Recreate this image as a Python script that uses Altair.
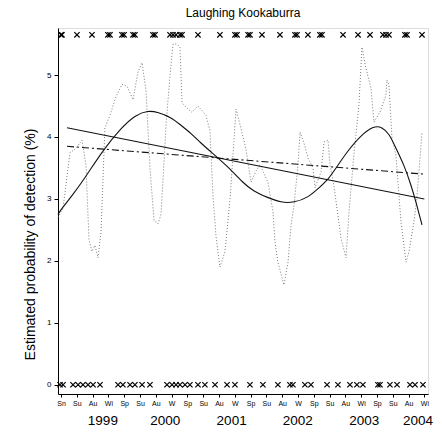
import altair as alt
import pandas as pd

# ---- data (x = season index, 0 = first season label) ----
season_labels = ["Sn", "Su", "Au", "Wi", "Sp", "Su", "Au", "W", "Sp", "Su", "Au", "W",
                 "Sp", "Su", "Au", "W", "Sp", "Su", "Au", "Wi", "Sp", "Su", "Au", "Wi"]
year_labels = ["1999", "2000", "2001", "2002", "2003", "2004"]
year_pos = [2.65, 6.6, 10.8, 14.99, 19.2, 22.6]

obs_s = [-0.19, 0.13, 0.57, 0.89, 1.33, 1.58, 1.77, 1.96, 2.15, 2.34, 2.53, 2.78, 3.10, 3.48,
         3.86, 4.18, 4.56, 4.87, 5.13, 5.38, 5.63, 5.89, 6.14, 6.33, 6.65, 6.90, 7.09, 7.34,
         7.53, 7.66, 8.04, 8.29, 8.67, 9.18, 9.43, 9.62, 9.81, 10.06, 10.38, 10.70, 11.08,
         11.33, 11.52, 11.71, 12.03, 12.34, 12.59, 13.10, 13.42, 13.54, 13.73, 14.11, 14.37,
         14.56, 14.75, 15.00, 15.13, 15.38, 15.63, 15.95, 16.08, 16.46, 16.65, 16.90, 17.03,
         17.28, 17.47, 17.72, 18.04, 18.23, 18.54, 18.86, 19.05, 19.30, 19.62, 19.81, 20.19,
         20.57, 20.63, 20.76, 20.95, 21.20, 21.52, 21.84, 22.03, 22.34, 22.53, 22.85]
obs_p = [2.70, 2.85, 3.75, 3.80, 3.95, 3.55, 2.35, 2.15, 2.25, 2.05, 2.45, 4.15, 4.35, 4.65,
         4.85, 4.82, 4.60, 5.05, 5.20, 4.75, 3.50, 2.65, 2.60, 2.75, 4.20, 5.00, 5.50, 5.50,
         5.45, 4.55, 4.45, 4.40, 4.50, 4.35, 4.10, 3.05, 2.40, 1.90, 2.15, 3.00, 4.45,
         4.20, 4.00, 3.80, 3.27, 3.45, 3.55, 3.27, 2.79, 2.31, 1.98, 1.61, 1.98,
         2.58, 2.90, 3.55, 4.08, 3.90, 3.66, 3.50, 3.18, 3.44, 3.92, 3.95, 3.55,
         3.20, 2.85, 2.37, 2.05, 2.79, 3.71, 4.52, 5.45, 5.11, 4.79, 4.24, 4.40,
         4.68, 4.92, 4.84, 3.98, 3.71, 2.63, 1.98, 2.15, 2.63, 3.02, 4.08]

trend_s = [0.38, 23.0]
trend_p = [4.15, 3.00]

trend2_s = [0.38, 23.0]
trend2_p = [3.85, 3.40]

smooth_s = [-0.19, 0.06, 0.70, 1.52, 2.66, 3.86, 4.68, 5.51, 6.14, 6.96, 7.59, 8.23, 8.86,
            9.49, 10.57, 11.52, 12.15, 13.10, 13.92, 14.75, 15.63, 16.33, 16.90, 17.41,
            18.10, 18.99, 19.81, 20.32, 20.76, 21.20, 21.71, 22.15, 22.47, 22.85]
smooth_p = [2.75, 2.85, 3.05, 3.34, 3.79, 4.16, 4.35, 4.43, 4.40, 4.32, 4.19, 4.06, 3.90,
            3.76, 3.52, 3.26, 3.13, 3.02, 2.94, 2.94, 3.02, 3.18, 3.31, 3.50,
            3.76, 4.03, 4.18, 4.16, 4.06, 3.82, 3.55, 3.23, 2.95, 2.58]

top_level = 5.65
top_s = [0.0, 0.06, 1.01, 1.96, 2.97, 3.10, 3.86, 3.99, 4.56, 4.68, 5.82, 5.95, 6.90, 7.09,
         7.28, 7.53, 7.66, 8.67, 10.06, 11.01, 11.14, 11.84, 11.96, 12.72, 13.86, 14.81,
         14.94, 15.63, 16.39, 16.52, 17.85, 18.80, 19.56, 20.38, 20.57, 20.76, 21.77,
         21.90, 22.85]
bottom_level = 0.0
bottom_s = [-0.06, 0.13, 0.76, 1.08, 1.39, 1.71, 2.03, 2.47, 3.61, 3.92, 4.37, 4.68, 5.13,
            5.63, 6.71, 7.03, 7.28, 7.53, 7.85, 8.16, 8.67, 9.11, 9.75, 10.51, 11.01,
            11.96, 12.78, 13.73, 14.49, 14.68, 15.44, 15.82, 16.84, 17.53, 18.29, 18.73,
            19.11, 20.06, 20.19, 20.82, 21.27, 22.09, 22.41, 22.91]

# ---- tables ----
obs_df = pd.DataFrame({"s": obs_s, "p": obs_p})
trend_df = pd.DataFrame({"s": trend_s, "p": trend_p})
trend2_df = pd.DataFrame({"s": trend2_s, "p": trend2_p})
smooth_df = pd.DataFrame({"s": smooth_s, "p": smooth_p})
cross_df = pd.DataFrame({
    "s": top_s + bottom_s,
    "p": [top_level] * len(top_s) + [bottom_level] * len(bottom_s),
})
year_df = pd.DataFrame({"s": year_pos, "label": year_labels})

FONT = "Liberation Sans"
W, H = 370, 366

label_expr = "[" + ",".join("'%s'" % l for l in season_labels) + "][datum.value]"

xscale = alt.Scale(domain=[-0.19, 23.23], nice=False, zero=False)
yscale = alt.Scale(domain=[-0.15, 5.76], nice=False, zero=False)

xaxis = alt.Axis(values=list(range(len(season_labels))), labelExpr=label_expr,
                 title=None, grid=False, tickSize=3, labelFontSize=7, labelPadding=2,
                 labelFont=FONT, domainColor="black", tickColor="black",
                 labelColor="black", labelFlush=False, labelOverlap=False)
yaxis = alt.Axis(values=[0, 1, 2, 3, 4, 5], title="Estimated probability of detection (%)",
                 grid=False, tickSize=4, labelFontSize=8, labelPadding=3, labelFont=FONT,
                 domainColor="black", tickColor="black", labelColor="black",
                 titleFont=FONT, titleFontSize=14, titleFontWeight="normal",
                 titleColor="black", titleX=-28, titleY=216, titleAngle=-90,
                 titleAlign="center", titleBaseline="middle")

def X():
    return alt.X("s:Q", scale=xscale, axis=xaxis)

def Y():
    return alt.Y("p:Q", scale=yscale, axis=yaxis)

obs = alt.Chart(obs_df).mark_line(color="#7a7a7a", strokeWidth=1, strokeDash=[1, 2]).encode(
    x=X(), y=Y(), order="s:Q")
trend = alt.Chart(trend_df).mark_line(color="#111111", strokeWidth=1.1).encode(x=X(), y=Y())
trend2 = alt.Chart(trend2_df).mark_line(color="#111111", strokeWidth=1.1,
                                        strokeDash=[7, 3, 2, 3]).encode(x=X(), y=Y())
smooth = alt.Chart(smooth_df).mark_line(color="#111111", strokeWidth=1.1,
                                        interpolate="basis").encode(x=X(), y=Y())
crosses = alt.Chart(cross_df).mark_point(
    shape="M -1 -1 L 1 1 M -1 1 L 1 -1", size=28, filled=False, color="black",
    strokeWidth=1.2, opacity=1).encode(x=X(), y=Y())
years = alt.Chart(year_df).mark_text(font=FONT, fontSize=13.5, color="black",
                                     baseline="middle", align="center").encode(
    x=X(), y=alt.value(H + 27), text="label:N")

chart = alt.layer(obs, trend, trend2, smooth, crosses, years).properties(
    width=W, height=H,
    title=alt.TitleParams("Laughing Kookaburra", font=FONT, fontSize=12,
                          fontWeight="normal", color="black", anchor="middle", offset=8),
    autosize=alt.AutoSizeParams(type="none"),
    padding={"left": 58, "top": 28, "right": 14, "bottom": 41},
).configure_view(stroke=None).configure(background="white")

chart.save("out.html", embed_options={"renderer": "svg", "actions": False})
